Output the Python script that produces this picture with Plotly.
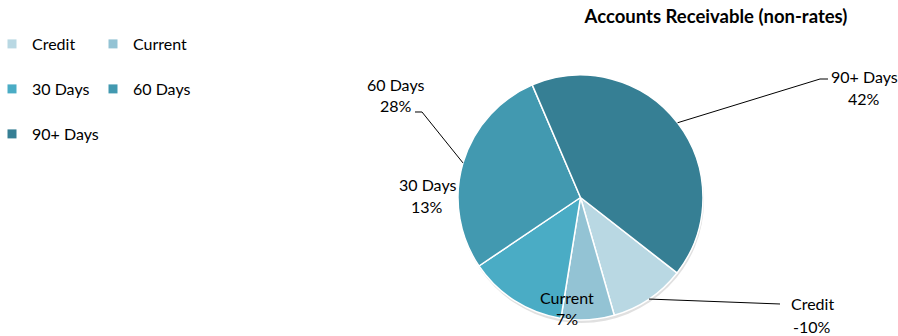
import math
import plotly.graph_objects as go

# ---------------- data ----------------
categories = ["Credit", "Current", "30 Days", "60 Days", "90+ Days"]
percent_values = [-10, 7, 13, 28, 42]          # percent of receivables (credit is negative)
slice_colors = ["#b9d8e3", "#93c3d4", "#4aacc5", "#4299b0", "#367f94"]
title_text = "Accounts Receivable (non-rates)"

# ---------------- layout constants (pixels) ----------------
W, H = 898, 336
ML, MR, MT, MB = 458, 195, 75, 16
PW, PH = W - ML - MR, H - MT - MB
FONT = "Lato, 'Open Sans', sans-serif"
START_ANGLE = 128  # degrees clockwise from 12 o'clock for first slice

def px2paper(px, py):
    return (px - ML) / PW, 1 - (py - MT) / PH

cx, cy = ML + PW / 2, MT + PH / 2
R = min(PW, PH) / 2

sizes = [abs(v) for v in percent_values]
total = sum(sizes)

# label placement (pixel centres of the two text lines) and leader-line style
label_pos = {
    "Credit":   dict(name=(812, 303), pct=(812, 326), line=[(780, 304)]),
    "Current":  dict(name=(567, 297), pct=(567, 318), line=None),
    "30 Days":  dict(name=(427, 184), pct=(427, 206), line=None),
    "60 Days":  dict(name=(395, 84),  pct=(396, 106), line=[(422, 112), (415, 112)]),
    "90+ Days": dict(name=(864, 76),  pct=(864, 98),  line=[(820, 79), (828, 79)]),
}

fig = go.Figure()

fig.add_trace(go.Pie(
    labels=categories,
    values=sizes,
    marker=dict(colors=slice_colors, line=dict(color="white", width=1.5)),
    sort=False,
    direction="clockwise",
    rotation=START_ANGLE,
    textinfo="none",
    hoverinfo="label+percent",
    showlegend=False,
    domain=dict(x=[0, 1], y=[0, 1]),
))

# legend entries (three rows, two per row)
rows = [["Credit", "Current"], ["30 Days", "60 Days"], ["90+ Days"]]
row_y = [44, 89, 134]
legend_names = ["legend", "legend2", "legend3"]
layout_legends = {}
for ri, (row, yy) in enumerate(zip(rows, row_y)):
    for lab in row:
        i = categories.index(lab)
        fig.add_trace(go.Scatter(
            x=[None], y=[None], mode="markers", name=lab,
            marker=dict(symbol="square", size=9, color=slice_colors[i]),
            legend=legend_names[ri], showlegend=True, hoverinfo="skip",
        ))
    lx, ly = px2paper(-8, yy)
    layout_legends[legend_names[ri]] = dict(
        orientation="h", x=lx, xanchor="left", y=ly, yanchor="middle",
        xref="paper", yref="paper",
        entrywidth=56 if len(row) > 1 else 100, entrywidthmode="pixels",
        font=dict(family=FONT, size=16, color="#000000"),
        bgcolor="rgba(0,0,0,0)", itemclick=False, itemdoubleclick=False,
    )

# annotations and leader lines derived from slice angles
annotations = []
shapes = []
# subtle shadow under pie
sx0, sy0 = px2paper(cx - R + 1, cy - R + 3)
sx1, sy1 = px2paper(cx + R + 1, cy + R + 3)
shapes.append(dict(type="circle", xref="paper", yref="paper", x0=sx0, y0=sy1, x1=sx1, y1=sy0,
                   fillcolor="rgba(0,0,0,0.12)", line=dict(width=0), layer="below"))

acc = START_ANGLE
for lab, v, s in zip(categories, percent_values, sizes):
    span = 360 * s / total
    mid = math.radians(acc + span / 2)
    acc += span
    ex, ey = cx + R * math.sin(mid), cy - R * math.cos(mid)
    p = label_pos[lab]
    for key, txt in (("name", lab), ("pct", f"{v:.0f}%")):
        ax, ay = px2paper(*p[key])
        annotations.append(dict(x=ax, y=ay, xref="paper", yref="paper", text=txt,
                                showarrow=False, xanchor="center", yanchor="middle",
                                font=dict(family=FONT, size=16, color="#000000")))
    if p["line"]:
        pts = [(ex, ey)] + p["line"]
        path = ""
        for k, (qx, qy) in enumerate(pts):
            px_, py_ = px2paper(qx, qy)
            path += ("M" if k == 0 else " L") + f"{px_:.5f},{py_:.5f}"
        shapes.append(dict(type="path", xref="paper", yref="paper", path=path,
                           line=dict(color="#000000", width=1)))

fig.update_layout(
    width=W, height=H,
    margin=dict(l=ML, r=MR, t=MT, b=MB, autoexpand=False),
    paper_bgcolor="white", plot_bgcolor="white",
    title=dict(text=f"<b>{title_text}</b>", x=716 / W, xanchor="center", xref="container",
               y=1 - 17 / H, yanchor="middle", yref="container",
               font=dict(family=FONT, size=18.5, color="#000000")),
    xaxis=dict(visible=False), yaxis=dict(visible=False),
    annotations=annotations, shapes=shapes,
    **layout_legends,
)

fig.write_html("out.html")
